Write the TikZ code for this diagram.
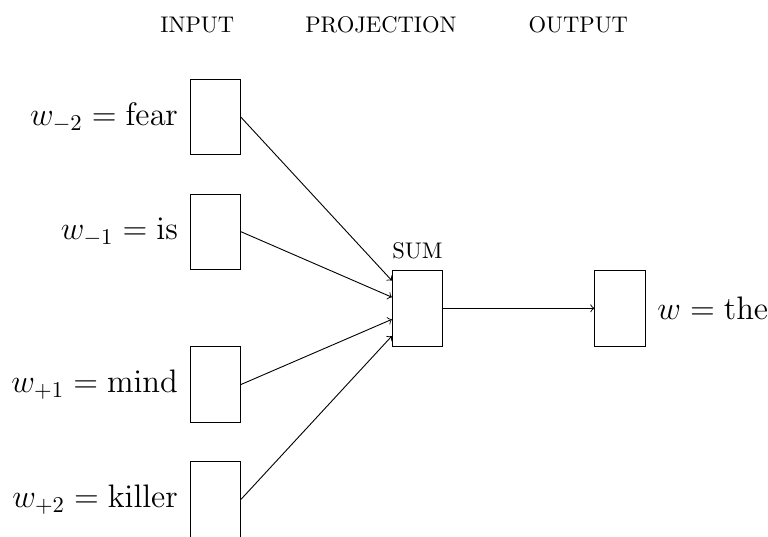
\documentclass[tikz,border=0pt]{standalone}
\begin{document}
\begin{tikzpicture}[x=0.4425pt,y=-0.4425pt,
  box/.style={draw, rectangle, minimum width=22.3pt, minimum height=33.4pt, inner sep=0pt},
  lbl/.style={inner sep=0pt, font=\Large},
  title/.style={inner sep=0pt, anchor=base},
  conn/.style={->}]
\useasboundingbox (0,0) rectangle (768,536);
% titles
\node[title] (tin) at (197.3,32.3) {INPUT};
\node[title] (tproj) at (381,32.3) {PROJECTION};
\node[title] (tout) at (578.3,32.3) {OUTPUT};
% boxes
\node[box] (in1) at (215.3,117.2) {};
\node[box] (in2) at (215.3,231.7) {};
\node[box] (in3) at (215.3,384.5) {};
\node[box] (in4) at (215.3,499.4) {};
\node[box] (sum) at (417.5,308.3) {};
\node[box] (out) at (620,308.3) {};
% labels
\node[lbl, anchor=east] (l1) at ([xshift=-5pt]in1.west) {$w_{-2} = \mathrm{fear}$};
\node[lbl, anchor=east] (l2) at ([xshift=-5pt]in2.west) {$w_{-1} = \mathrm{is}$};
\node[lbl, anchor=east] (l3) at ([xshift=-5pt]in3.west) {$w_{+1} = \mathrm{mind}$};
\node[lbl, anchor=east] (l4) at ([xshift=-5pt]in4.west) {$w_{+2} = \mathrm{killer}$};
\node[lbl, anchor=west] (lo) at ([xshift=5pt]out.east) {$w = \mathrm{the}$};
\node[inner sep=0pt, anchor=base] (ls) at ([yshift=5.2pt]sum.north) {SUM};
% connectors
\draw[conn] (in1.east) -- (sum);
\draw[conn] (in2.east) -- (sum);
\draw[conn] (in3.east) -- (sum);
\draw[conn] (in4.east) -- (sum);
\draw[conn] (sum) -- (out);
\end{tikzpicture}
\end{document}
